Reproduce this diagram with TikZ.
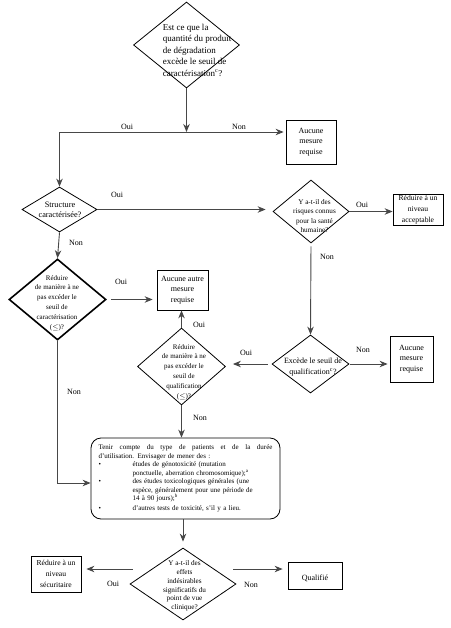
\documentclass[tikz,border=0pt]{standalone}
\usepackage{fontspec}
\setmainfont{Liberation Serif}
\usetikzlibrary{arrows.meta,shapes.geometric}
\newcommand\fsz[2]{\fontsize{#1}{#2}\selectfont}

\begin{document}
\begin{tikzpicture}[x=1pt,y=-1pt,
	dia/.style={draw, diamond, inner sep=0pt, line width=0.8pt},
	dtext/.style={align=center, inner sep=0pt},
	box/.style={draw, rectangle, inner sep=0pt, align=center, line width=0.8pt, font=\fsz{8}{10.5}},
	conn/.style={draw=black!72, line width=0.9pt, -{Stealth[length=8pt,width=6.5pt]}},
	lab/.style={inner sep=0pt, font=\fsz{8}{10}}]
			%%%%% START %%%%%
			
			\useasboundingbox (0,0) rectangle (450,628);
			
			\node[dia, minimum width=106pt, minimum height=86pt] (seuil) at (186.5,45) {};
			\node[dtext, align=left, font=\fsz{9}{11.5}] (seuil-t) at (197,50) {Est ce que la\\quantité du produit\\de dégradation\\excède le seuil de\\caractérisation\textsuperscript{c}?};
			\coordinate (fourche) at (186.5,132);
			\node[box, minimum width=50pt, minimum height=44pt] (aucune1) at (311,142) {Aucune\\mesure\\requise};
			
			\node[dia, minimum width=75pt, minimum height=45pt] (struct) at (59.5,209.5) {};
			\node[dtext, font=\fsz{8.3}{10}] (struct-t) at (60,210) {Structure\\caractérisée?};
			
			\node[dia, minimum width=76pt, minimum height=63pt] (risque) at (311,211.5) {};
			\node[dtext, font=\fsz{7.2}{9.4}] (risque-t) at (314.5,216) {Y a-t-il des\\risques connus\\pour la santé\\humaine?};
			\node[box, minimum width=50pt, minimum height=31pt, font=\fsz{7.6}{10.8}] (acceptable) at (418,209.5) {Réduire à un\\niveau\\acceptable};
			
			\node[dia, line width=1.6pt, minimum width=97pt, minimum height=81pt] (redcar) at (57.5,299.5) {};
			\node[dtext, font=\fsz{7}{9.8}] (redcar-t) at (57,303) {Réduire\\de manière à ne\\pas excéder le\\seuil de\\caractérisation\\($\le$)?};
			\node[box, minimum width=51pt, minimum height=40pt] (aucune2) at (182.5,290) {Aucune autre\\mesure\\requise};
			
			\node[dia, minimum width=88pt, minimum height=77pt] (redqual) at (181.5,366.5) {};
			\node[dtext, font=\fsz{7}{9.8}] (redqual-t) at (184,372) {Réduire\\de manière à ne\\pas excéder le\\seuil de\\qualification\\($\le$)?};
			
			\node[dia, minimum width=77pt, minimum height=58pt] (qual) at (310.5,364) {};
			\node[dtext, font=\fsz{8}{10.5}] (qual-t) at (313,367) {Excède le seuil de\\qualification\textsuperscript{c}?};
			\node[box, minimum width=43pt, minimum height=46pt] (aucune3) at (411.5,359) {Aucune\\mesure\\requise};
			
			\node[draw, rounded corners=10pt, line width=0.8pt, minimum width=189pt, minimum height=81pt, text width=174pt, align=left, inner sep=0pt, font=\fsz{7}{8.5}] (etudes) at (185.5,478.5) {\hbox to 174pt{Tenir\hfill compte\hfill du\hfill type\hfill de\hfill patients\hfill et\hfill de\hfill la\hfill durée}\\
				d’utilisation. Envisager de mener des :\\
				\makebox[34pt][l]{\textbullet}études de génotoxicité (mutation\\
				\hspace*{34pt}ponctuelle, aberration chromosomique);\textsuperscript{a}\\
				\makebox[34pt][l]{\textbullet}des études toxicologiques générales (une\\
				\hspace*{34pt}espèce, généralement pour une période de\\
				\hspace*{34pt}14 à 90 jours);\textsuperscript{b}\\[1.5pt]
				\makebox[34pt][l]{\textbullet}d’autres tests de toxicité, s’il y a lieu.};
			
			\node[dia, minimum width=106pt, minimum height=72pt] (effets) at (183,584) {};
			\node[dtext, font=\fsz{7.2}{8.8}] (effets-t) at (184.5,586) {Y a-t-il des\\effets\\indésirables\\significatifs du\\point de vue\\clinique?};
			\node[box, minimum width=50pt, minimum height=36pt, font=\fsz{7.6}{10.8}] (securit) at (56,574) {Réduire à un\\niveau\\sécuritaire};
			\node[box, minimum width=54pt, minimum height=27pt] (qualifie) at (315,575.5) {\mbox{}\\Qualifié};
			
			\draw[conn] (seuil.south) -- (fourche);
			\draw[conn, shorten >=2pt] (fourche) -- (fourche -| aucune1.west);
			\draw[conn] (fourche) -| (struct.north);
			\draw[conn, shorten >=7pt] (struct.east) -- (struct.east -| risque.west);
			\draw[conn] (risque.east) -- (risque.east -| acceptable.west);
			\draw[conn, shorten <=3pt] (risque.south) -- (qual.north);
			\draw[conn] (struct.south) -- (redcar.north);
			\draw[conn, shorten <=4pt, shorten >=4pt] (redcar.east) -- (redcar.east -| aucune2.west);
			\draw[conn] (redqual.north) -- (redqual.north |- aucune2.south);
			\draw[conn, shorten <=4pt, shorten >=7pt] (qual.west) -- (qual.west -| redqual.east);
			\draw[conn, shorten <=1pt, shorten >=2pt] (qual.east) -- (qual.east -| aucune3.west);
			\draw[conn] (redcar.south) |- ([yshift=-4.5pt]etudes.west);
			\draw[conn] (redqual.south) -- (redqual.south |- etudes.north);
			\draw[conn, shorten >=6pt] (etudes.south -| effets.north) -- (effets.north);
			\draw[conn, shorten >=2pt] ([shift={(3pt,15pt)}]effets.west) -- ([shift={(3pt,15pt)}]effets.west -| securit.east);
			\draw[conn, shorten >=2pt] ([shift={(-3pt,15pt)}]effets.east) -- ([shift={(-3pt,15pt)}]effets.east -| qualifie.west);
			
			\node[lab] (oui-a) at (127,127) {Oui};
			\node[lab] (non-a) at (239,127) {Non};
			\node[lab] (oui-b) at (117,195) {Oui};
			\node[lab] (oui-c) at (362,205) {Oui};
			\node[lab] (non-b) at (76,243) {Non};
			\node[lab] (non-c) at (327,257) {Non};
			\node[lab] (oui-d) at (121,282) {Oui};
			\node[lab] (oui-e) at (199,325) {Oui};
			\node[lab] (oui-f) at (246,353) {Oui};
			\node[lab] (non-d) at (363,350) {Non};
			\node[lab] (non-e) at (74,392) {Non};
			\node[lab] (non-f) at (200,418) {Non};
			\node[lab] (oui-g) at (113,584) {Oui};
			\node[lab] (non-g) at (251,585) {Non};
			
			%%%%% END %%%%%
\end{tikzpicture}
\end{document}
